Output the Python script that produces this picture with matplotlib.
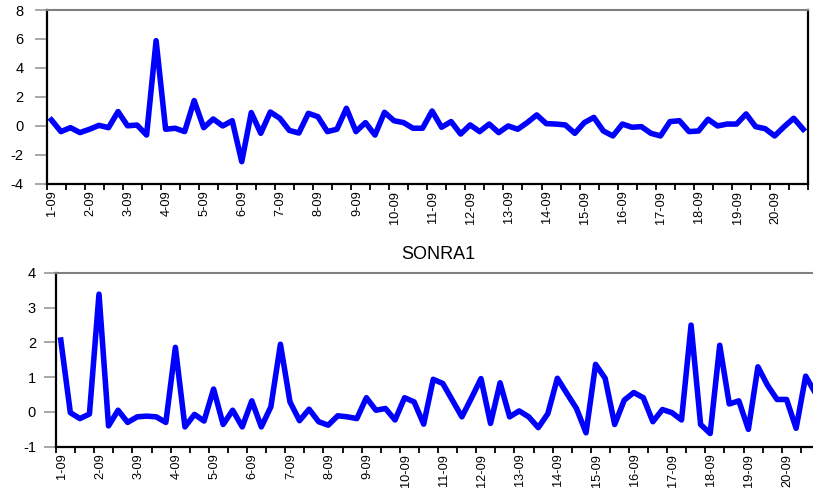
import numpy as np
import matplotlib
matplotlib.use("Agg")
import matplotlib.pyplot as plt

plt.rcParams['font.family'] = ['Liberation Sans', 'DejaVu Sans']
plt.rcParams['axes.unicode_minus'] = False

# upper series (untitled panel)
top_vals = [
    0.40, -0.40, -0.13, -0.47, -0.24, 0.03, -0.13, 0.98, 0.00, 0.05,
    -0.64, 5.88, -0.24, -0.17, -0.40, 1.74, -0.13, 0.47, -0.01, 0.35,
    -2.48, 0.91, -0.52, 0.95, 0.52, -0.32, -0.50, 0.86, 0.63, -0.40,
    -0.24, 1.21, -0.40, 0.22, -0.64, 0.93, 0.35, 0.22, -0.17, -0.17,
    1.02, -0.10, 0.29, -0.57, 0.06, -0.40, 0.12, -0.47, -0.01, -0.24,
    0.22, 0.75, 0.15, 0.12, 0.06, -0.52, 0.22, 0.58, -0.36, -0.70,
    0.12, -0.10, -0.06, -0.52, -0.70, 0.29, 0.35, -0.40, -0.36, 0.45,
    -0.01, 0.12, 0.12, 0.82, -0.06, -0.20, -0.70, -0.06, 0.52, -0.24,
]

# SONRA1
sonra1 = [
    2.07, -0.02, -0.19, -0.06, 3.39, -0.40, 0.05, -0.30, -0.14, -0.12,
    -0.14, -0.30, 1.86, -0.43, -0.07, -0.26, 0.66, -0.36, 0.05, -0.43,
    0.32, -0.43, 0.15, 1.95, 0.29, -0.25, 0.08, -0.28, -0.38, -0.11,
    -0.14, -0.19, 0.41, 0.05, 0.10, -0.23, 0.41, 0.29, -0.35, 0.94,
    0.82, 0.34, -0.14, 0.40, 0.96, -0.33, 0.84, -0.14, 0.03, -0.14,
    -0.45, -0.05, 0.97, 0.53, 0.10, -0.60, 1.37, 0.97, -0.36, 0.34,
    0.56, 0.41, -0.28, 0.07, -0.02, -0.23, 2.50, -0.36, -0.62, 1.92,
    0.23, 0.32, -0.50, 1.30, 0.77, 0.36, 0.36, -0.47, 1.03, 0.55,
]

period_labels = ['1-09', '2-09', '3-09', '4-09', '5-09', '6-09', '7-09',
                 '8-09', '9-09', '10-09', '11-09', '12-09', '13-09', '14-09',
                 '15-09', '16-09', '17-09', '18-09', '19-09', '20-09']

top_yticks = [-4, -2, 0, 2, 4, 6, 8]
bot_yticks = [-1, 0, 1, 2, 3, 4]


def style_axes(ax, n, yticks, ypad):
    ax.set_xlim(0, n)
    ax.set_ylim(yticks[0], yticks[-1])
    ax.set_yticks(yticks)
    # labels sit on the first obs of each period, ticks every 2 obs
    ax.set_xticks(np.arange(0, n, 4) + 0.6)
    ax.set_xticklabels(period_labels, rotation=90, va='top')
    ax.set_xticks(np.arange(0, n + 1, 2), minor=True)
    ax.tick_params(axis='x', which='major', length=0, pad=5, labelsize=9.2)
    ax.tick_params(axis='x', which='minor', length=4.5, width=1.3,
                   color='black', direction='out')
    ax.tick_params(axis='y', length=8.5, width=1.3, color='#a0a0a0',
                   pad=ypad, labelsize=10.5)
    ax.spines['top'].set_color('#808080')
    ax.spines['top'].set_linewidth(1.5)
    for s in ['left', 'bottom', 'right']:
        ax.spines[s].set_color('black')
        ax.spines[s].set_linewidth(1.6)


fig = plt.figure(figsize=(8.13, 4.88), dpi=100)

ax1 = fig.add_axes([0.0574, 0.6236, 0.9364, 0.3559])
n1 = len(top_vals)
ax1.plot(np.arange(n1) + 0.5, top_vals, color='#0000ff', lw=4.0)
style_axes(ax1, n1, top_yticks, 8)

# lower panel runs past the right edge of the picture
ax2 = fig.add_axes([0.0689, 0.0846, 0.9397, 0.356])
n2 = len(sonra1)
ax2.plot(np.arange(n2) + 0.5, sonra1, color='#0000ff', lw=4.0)
style_axes(ax2, n2, bot_yticks, 6)
ax2.set_title('SONRA1', fontsize=13, pad=10)

fig.savefig('out.png', dpi=100)
